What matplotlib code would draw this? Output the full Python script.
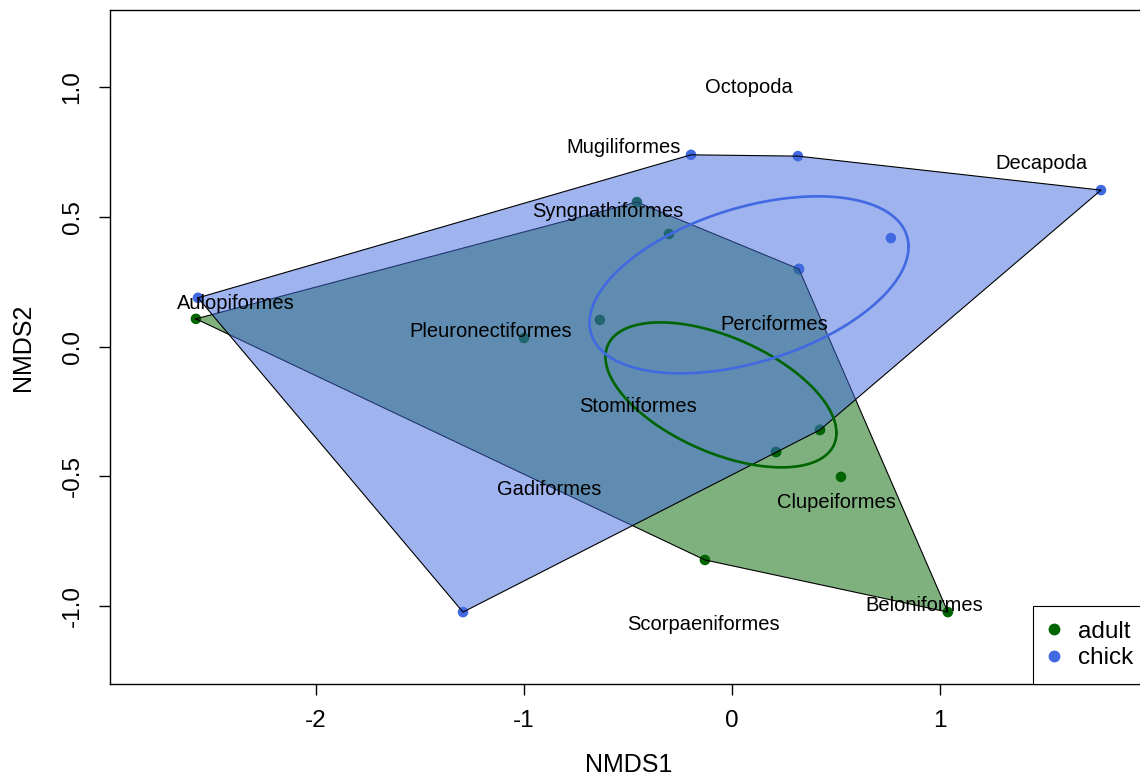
import numpy as np
import matplotlib
matplotlib.use("Agg")
from matplotlib import pyplot as plt
from matplotlib.lines import Line2D

plt.rcParams['font.family'] = ['Liberation Sans', 'DejaVu Sans']
plt.rcParams['axes.unicode_minus'] = False

# NMDS site scores, row order decides which dot ends up on top
site_x = [-2.567, -0.197, 0.317, 1.774, 0.764, -1.293, 0.212, 0.423,
          -2.577, -0.457, -0.303, -0.635, -1.000, 0.212, 0.423, 0.524, -0.130, 1.038, 0.322,
          0.322]
site_y = [0.188, 0.739, 0.734, 0.603, 0.418, -1.023, -0.406, -0.321,
          0.107, 0.557, 0.434, 0.103, 0.033, -0.406, -0.321, -0.502, -0.822, -1.023, 0.299,
          0.299]
site_group = ['chick'] * 8 + ['adult'] * 11 + ['chick']

# species scores (text only)
species = ['Octopoda', 'Mugiliformes', 'Decapoda', 'Syngnathiformes', 'Aulopiformes',
           'Pleuronectiformes', 'Perciformes', 'Stomiiformes', 'Gadiformes',
           'Clupeiformes', 'Beloniformes', 'Scorpaeniformes']
species_x = [0.082, -0.522, 1.490, -0.596, -2.387, -1.159, 0.202, -0.452, -0.880, 0.500, 0.923, -0.139]
species_y = [0.997, 0.766, 0.704, 0.519, 0.168, 0.060, 0.084, -0.232, -0.552, -0.602, -0.999, -1.072]

groups = ['adult', 'chick']
# ordiellipse results: centre and covariance
ell_center = {'adult': (-0.053, -0.186), 'chick': (0.082, 0.238)}
ell_cov = {'adult': [[0.3083, -0.0813], [-0.0813, 0.07805]],
           'chick': [[0.588, 0.1123], [0.1123, 0.1163]]}

colors = {'adult': 'darkgreen', 'chick': 'royalblue'}


def convex_hull(xs, ys):
    pts = sorted(set(zip(xs, ys)))

    def cross(o, a, b):
        return (a[0] - o[0]) * (b[1] - o[1]) - (a[1] - o[1]) * (b[0] - o[0])
    lower = []
    for p in pts:
        while len(lower) >= 2 and cross(lower[-2], lower[-1], p) <= 0:
            lower.pop()
        lower.append(p)
    upper = []
    for p in reversed(pts):
        while len(upper) >= 2 and cross(upper[-2], upper[-1], p) <= 0:
            upper.pop()
        upper.append(p)
    return lower[:-1] + upper[:-1]


fig = plt.figure(figsize=(11.4, 7.81), dpi=100)
ax = fig.add_axes([110 / 1140, 97 / 781, 1038 / 1140, 674 / 781])

# points first, hulls drawn over them
ax.scatter(site_x, site_y, c=[colors[g] for g in site_group], s=58, linewidths=0, zorder=1)

for z, g in enumerate(groups):
    gx = [x for x, gg in zip(site_x, site_group) if gg == g]
    gy = [y for y, gg in zip(site_y, site_group) if gg == g]
    h = convex_hull(gx, gy)
    ax.fill([p[0] for p in h], [p[1] for p in h], facecolor=colors[g], alpha=0.5,
            edgecolor='none', zorder=2 + z)
    ax.plot([p[0] for p in h] + [h[0][0]], [p[1] for p in h] + [h[0][1]],
            color='black', lw=0.8, zorder=2 + z)

t = np.linspace(0, 2 * np.pi, 300)
for g in groups:
    L = np.linalg.cholesky(np.array(ell_cov[g]))
    e = L @ np.vstack([np.cos(t), np.sin(t)])
    ax.plot(ell_center[g][0] + e[0], ell_center[g][1] + e[1], color=colors[g], lw=1.9, zorder=5)

for name, x, y in zip(species, species_x, species_y):
    ax.text(x, y, name, ha='center', va='center', fontsize=14.5, zorder=6)

ax.set_xlim(-2.99, 2.0)
ax.set_ylim(-1.30, 1.297)
ax.set_xticks([-2, -1, 0, 1])
ax.set_xticklabels(['-2', '-1', '0', '1'])
ax.set_yticks([-1.0, -0.5, 0.0, 0.5, 1.0])
ax.set_yticklabels(['-1.0', '-0.5', '0.0', '0.5', '1.0'], rotation=90, va='center')
ax.tick_params(direction='out', length=8, width=1, labelsize=17.5, pad=11)
for s in ax.spines.values():
    s.set_linewidth(1.0)

ax.set_xlabel('NMDS1', fontsize=18, labelpad=15)
ax.set_ylabel('NMDS2', fontsize=18, labelpad=19)

handles = [Line2D([], [], marker='o', ls='none', color=colors[g], markersize=7.5) for g in groups]
leg = ax.legend(handles, groups, loc='lower right', bbox_to_anchor=(1, 0), borderaxespad=0,
                fontsize=17.5, frameon=True, fancybox=False, framealpha=1, edgecolor='black',
                handlelength=0.5, handletextpad=0.75, borderpad=0.6, labelspacing=0.2)
leg.get_frame().set_linewidth(0.8)
leg.set_zorder(7)

fig.savefig('out.png', dpi=100)
